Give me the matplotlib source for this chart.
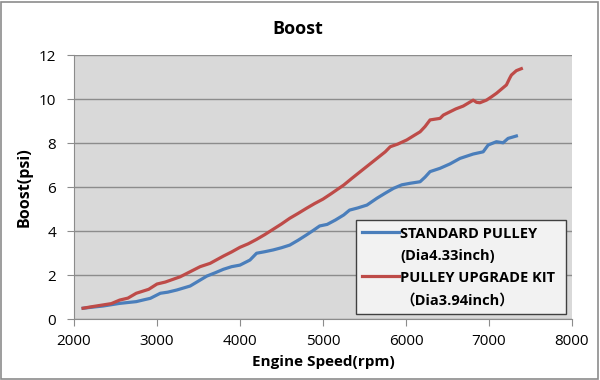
import matplotlib
matplotlib.use("Agg")
import matplotlib.pyplot as plt
from matplotlib.patches import Rectangle

# data
rpm_upgrade = [2110, 2200, 2350, 2450, 2550, 2650, 2750, 2900, 3000, 3100, 3280, 3400, 3520, 3640,
               3800, 3900, 4000, 4100, 4200, 4300, 4400, 4500, 4600, 4700, 4800, 4900, 5000, 5100,
               5250, 5350, 5450, 5550, 5650, 5750, 5810, 5900, 6010, 6100, 6170, 6230, 6290, 6410,
               6450, 6530, 6600, 6690, 6810, 6850, 6890, 6970, 7030, 7090, 7150, 7210, 7250, 7270,
               7330, 7390]
boost_upgrade = [0.49, 0.55, 0.64, 0.70, 0.86, 0.95, 1.17, 1.35, 1.59, 1.68, 1.92, 2.15, 2.38, 2.53,
                 2.86, 3.05, 3.26, 3.42, 3.62, 3.84, 4.08, 4.32, 4.58, 4.80, 5.03, 5.25, 5.45, 5.70,
                 6.09, 6.40, 6.70, 7.00, 7.30, 7.60, 7.83, 7.95, 8.14, 8.35, 8.51, 8.75, 9.05, 9.12,
                 9.27, 9.42, 9.55, 9.68, 9.95, 9.85, 9.83, 9.95, 10.10, 10.26, 10.45, 10.64, 10.95, 11.09,
                 11.29, 11.38]

rpm_std = [2110, 2250, 2350, 2450, 2550, 2650, 2750, 2850, 2920, 3040, 3130, 3240, 3400, 3520,
           3600, 3700, 3800, 3900, 4000, 4120, 4200, 4300, 4400, 4500, 4600, 4700, 4800, 4880,
           4960, 5050, 5150, 5250, 5320, 5420, 5530, 5650, 5750, 5850, 5950, 6050, 6170, 6230,
           6290, 6410, 6530, 6650, 6810, 6930, 6990, 7090, 7170, 7230, 7330]
boost_std = [0.49, 0.55, 0.59, 0.65, 0.71, 0.75, 0.79, 0.88, 0.94, 1.17, 1.22, 1.32, 1.50, 1.77,
             1.95, 2.10, 2.26, 2.38, 2.45, 2.68, 2.99, 3.06, 3.14, 3.24, 3.36, 3.58, 3.82, 4.02,
             4.23, 4.30, 4.50, 4.73, 4.95, 5.05, 5.18, 5.49, 5.72, 5.94, 6.10, 6.17, 6.24, 6.45,
             6.70, 6.85, 7.05, 7.30, 7.50, 7.60, 7.91, 8.06, 8.01, 8.21, 8.32]

labels = ["STANDARD PULLEY\n(Dia4.33inch)", "PULLEY UPGRADE KIT\n\uff08Dia3.94inch\uff09"]

plt.rcParams['font.family'] = ['Open Sans', 'Noto Sans CJK JP', 'DejaVu Sans']

fig = plt.figure(figsize=(6, 3.8), dpi=100)
ax = fig.add_axes([0.1233, 0.1605, 0.83, 0.6947])
ax.set_facecolor("#d9d9d9")

ax.plot(rpm_std, boost_std, color="#4a7ebb", linewidth=2.3, label=labels[0])
ax.plot(rpm_upgrade, boost_upgrade, color="#be4b48", linewidth=2.3, label=labels[1])

ax.set_xlim(2000, 8000)
ax.set_ylim(0, 12)
ax.set_xticks(range(2000, 8001, 1000))
ax.set_yticks(range(0, 13, 2))
ax.grid(axis="y", color="#8c8c8c", linewidth=1)
ax.set_axisbelow(True)
for s in ["top", "right"]:
    ax.spines[s].set_visible(False)
for s in ["left", "bottom"]:
    ax.spines[s].set_color("#8c8c8c")
ax.tick_params(colors="#8c8c8c", labelcolor="black", labelsize=11, length=5)
ax.tick_params(axis="y", pad=8)
ax.tick_params(axis="x", pad=6)

fig.text(0.497, 0.925, "Boost", fontsize=13, fontweight="bold", ha="center", va="center")
ax.set_xlabel("Engine Speed(rpm)", fontsize=11, fontweight="bold", labelpad=4)
ax.set_ylabel("Boost(psi)", fontsize=11.5, fontweight="bold", labelpad=4)

leg = ax.legend(loc="lower left", bbox_to_anchor=(0.566, 0.019, 0.422, 0.371), mode="expand",
                frameon=True, fancybox=False, handlelength=2.5, handletextpad=0.1,
                prop={"weight": "bold", "size": 10.5}, labelspacing=0.55, borderaxespad=0,
                borderpad=0.45)
leg.get_frame().set_facecolor("#f2f2f2")
leg.get_frame().set_edgecolor("#404040")
leg.get_frame().set_alpha(1)
for t in leg.get_texts():
    t.set_fontweight("bold")
    t.set_linespacing(1.75)
# handles sit level with the first line of each label
for ln in leg.get_lines():
    ln.set_ydata([y + 10 for y in ln.get_ydata()])

fig.patches.append(Rectangle((0.002, 0.003), 0.995, 0.993, transform=fig.transFigure,
                             fill=False, edgecolor="#8c8c8c", linewidth=1.2))

fig.savefig("out.png", dpi=100)
